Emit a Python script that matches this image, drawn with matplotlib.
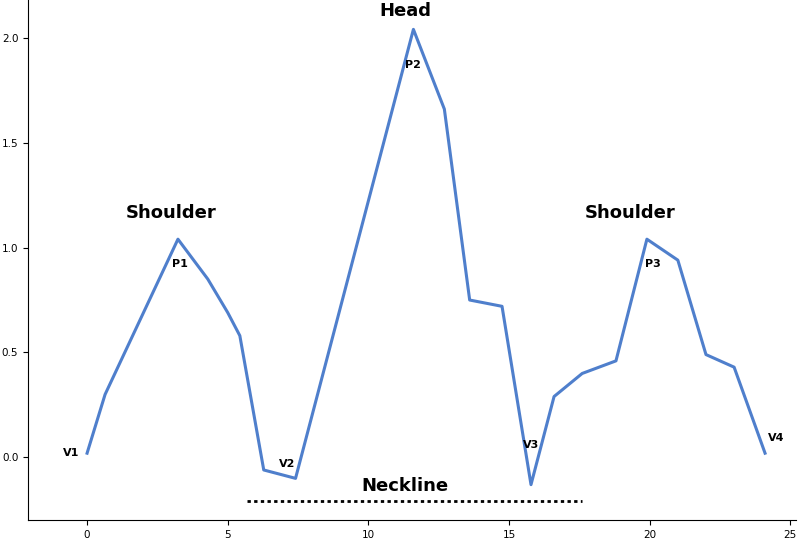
import matplotlib
matplotlib.use("Agg")
import matplotlib.pyplot as plt

xs = [0, 0.64, 3.23, 4.29, 5.0, 5.43, 6.28, 7.41, 11.6, 12.7, 13.6, 14.75, 15.78, 16.6, 17.6, 18.8, 19.9, 21.0, 22.0, 23.0, 24.1]
ys = [0.02, 0.30, 1.04, 0.85, 0.69, 0.58, -0.06, -0.10, 2.04, 1.66, 0.75, 0.72, -0.13, 0.29, 0.40, 0.46, 1.04, 0.94, 0.49, 0.43, 0.02]
point_labels = [("V1", -0.55, 0.02), ("P1", 3.3, 0.92), ("V2", 7.1, -0.03), ("P2", 11.6, 1.87),
                ("V3", 15.8, 0.06), ("P3", 20.1, 0.92), ("V4", 24.5, 0.09)]
big_labels = [("Shoulder", 3.0, 1.12), ("Head", 11.3, 2.085), ("Shoulder", 19.3, 1.12), ("Neckline", 11.3, -0.18)]
neck_x = [5.7, 17.6]
neck_y = [-0.21, -0.21]

fig = plt.figure(figsize=(8, 5.42), dpi=100)
ax = fig.add_axes([0.035, 0.04, 0.96, 0.96])
ax.plot(xs, ys, color="#4f7fcc", lw=2.2)
ax.plot(neck_x, neck_y, color="black", ls=(0, (1.2, 1.2)), lw=2)
for t, x, y in point_labels:
    ax.text(x, y, t, ha="center", va="center", fontsize=8, fontweight="bold")
for t, x, y in big_labels:
    ax.text(x, y, t, ha="center", va="bottom", fontsize=13, fontweight="bold")
ax.set_xlim(-2.1, 25.2)
ax.set_ylim(-0.30, 2.18)
ax.set_xticks([0, 5, 10, 15, 20, 25])
ax.set_yticks([0.0, 0.5, 1.0, 1.5, 2.0])
ax.set_yticklabels(["0.0", "0.5", "1.0", "1.5", "2.0"])
ax.tick_params(labelsize=7.5)
for s in ["top", "right"]:
    ax.spines[s].set_visible(False)
fig.savefig("out.png")
